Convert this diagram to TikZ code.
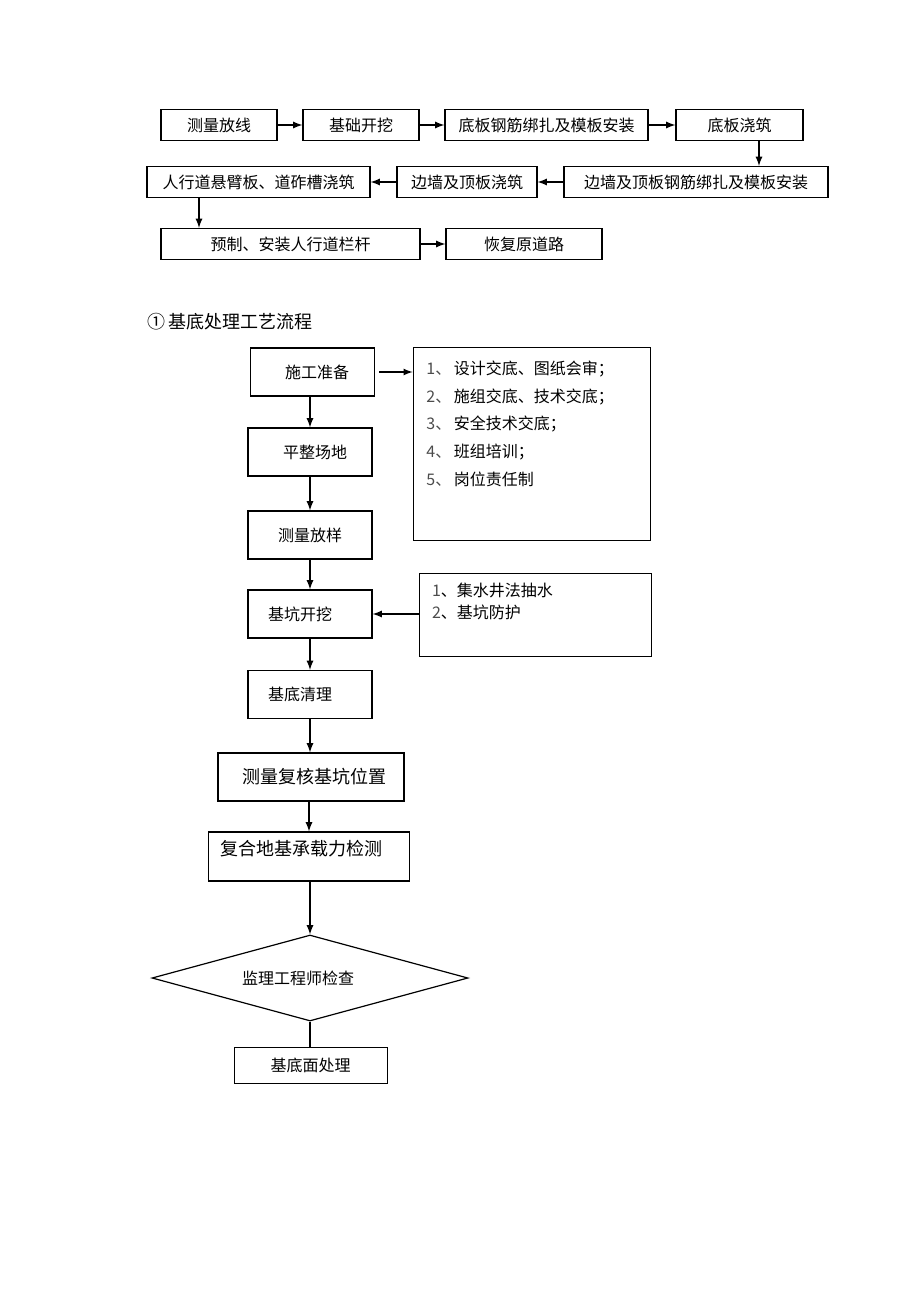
\documentclass[tikz,border=0pt]{standalone}
\usepackage{fontspec}
\setmainfont{Noto Sans CJK SC}
\usepackage{tikz}
\usetikzlibrary{arrows,shapes.geometric}

\begin{document}
\begin{tikzpicture}[x=0.5pt,y=-0.5pt,
  box/.style={draw,line width=0.6pt,inner sep=0pt,minimum height=15.5pt,font=\fontsize{8}{8}\selectfont},
  tall/.style={box,minimum width=62pt,minimum height=24pt},
  txt/.style={anchor=west,inner sep=0pt,font=\fontsize{8}{8}\selectfont},
  arr/.style={-latex,line width=0.6pt}]
\useasboundingbox (0,0) rectangle (920,1302);

\node[box,minimum width=58pt] (clfx) at (219,125) {测量放线}; \node[box,minimum width=58pt] (jckw) at (361,125) {基础开挖};
\node[box,minimum width=101.5pt] (dbgj) at (546.5,125) {底板钢筋绑扎及模板安装}; \node[box,minimum width=63.5pt] (dbjz) at (739.5,125) {底板浇筑};
\node[box,minimum width=111.5pt] (rxdb) at (258.5,182) {人行道悬臂板、道砟槽浇筑}; \node[box,minimum width=70pt] (bqjz) at (467,182) {边墙及顶板浇筑};
\node[box,minimum width=132pt] (bqgj) at (696,182) {边墙及顶板钢筋绑扎及模板安装};
\node[box,minimum width=129.5pt] (lgaz) at (290.5,244) {预制、安装人行道栏杆}; \node[box,minimum width=78pt] (hfdl) at (524,244) {恢复原道路};
\draw[arr] (clfx) -- (jckw); \draw[arr] (jckw) -- (dbgj); \draw[arr] (dbgj) -- (dbjz);
\draw[arr] ([xshift=9.75pt]dbjz.south) -- ([xshift=9.75pt]dbjz.south |- bqgj.north);
\draw[arr] (bqgj) -- (bqjz); \draw[arr] (bqjz) -- (rxdb);
\draw[arr] ([xshift=-29.75pt]rxdb.south) -- ([xshift=-29.75pt]rxdb.south |- lgaz.north);
\draw[arr] (lgaz) -- (hfdl);

\node[anchor=west,inner sep=0pt,font=\fontsize{9}{9}\selectfont] (title) at (147,322) {①\,基底处理工艺流程};

\node[tall,minimum width=62pt] (sgzb) at (312.5,372) {\hspace*{4.5pt}施工准备};
\node[tall] (pzcd) at (310,452) {\hspace*{5pt}平整场地};
\node[tall] (clfy) at (310,535) {测量放样};
\node[tall] (jkkw) at (310,614) {基坑开挖\hspace*{10pt}};
\node[tall] (jdql) at (310,694.5) {基底清理\hspace*{10pt}};
\node[tall,minimum width=93pt,font=\fontsize{9}{9}\selectfont] (fhwz) at (311,777) {\hspace*{3.5pt}测量复核基坑位置};
\node[tall,minimum width=100.5pt,minimum height=24.5pt] (czlj) at (309,856.5) {};
\node[txt,font=\fontsize{9}{9}\selectfont] (czljt) at ([shift={(6.3pt,-8.8pt)}]czlj.north west) {复合地基承载力检测};
\node[draw,diamond,aspect=3.67,minimum width=158pt,minimum height=43pt,inner sep=0pt,line width=0.6pt,font=\fontsize{8}{8}\selectfont] (jljc) at (310,978) {监理工程师检查\hspace*{12pt}};
\node[box,minimum width=76.5pt,minimum height=17.8pt] (jdcl) at (310.7,1065.5) {基底面处理};

\node[box,minimum width=118.7pt,minimum height=96.5pt] (zbnr) at (532,444.2) {};
\foreach \t [count=\i] in {设计交底、图纸会审；,施组交底、技术交底；,安全技术交底；,班组培训；,岗位责任制}
  \node[txt] (zb\i) at (426,369+27.7*\i-27.7) {{\color{black!70}\i、}\,\t};
\node[box,minimum width=116.2pt,minimum height=41.7pt] (fhcs) at (535.5,615) {};
\node[txt] (fh1) at (431.7,590.7) {{\color{black!70}1}、集水井法抽水};
\node[txt] (fh2) at (431.7,612) {{\color{black!70}2}、基坑防护};

\draw[arr] ([xshift=2pt]sgzb.east) -- (sgzb.east -| zbnr.west);
\draw[arr] (pzcd.north |- sgzb.south) -- (pzcd.north);
\draw[arr] (pzcd) -- (clfy); \draw[arr] (clfy) -- (jkkw);
\draw[arr] (fhcs.west |- jkkw.east) -- (jkkw.east);
\draw[arr] (jkkw) -- (jdql); \draw[arr] (jdql.south) -- (jdql.south |- fhwz.north);
\draw[arr] (fhwz.south -| czlj.north) -- (czlj.north);
\draw[arr] (czlj.south -| jljc.north) -- (jljc.north);
\draw[line width=0.6pt] (jljc.south) -- (jljc.south |- jdcl.north);
\end{tikzpicture}
\end{document}
